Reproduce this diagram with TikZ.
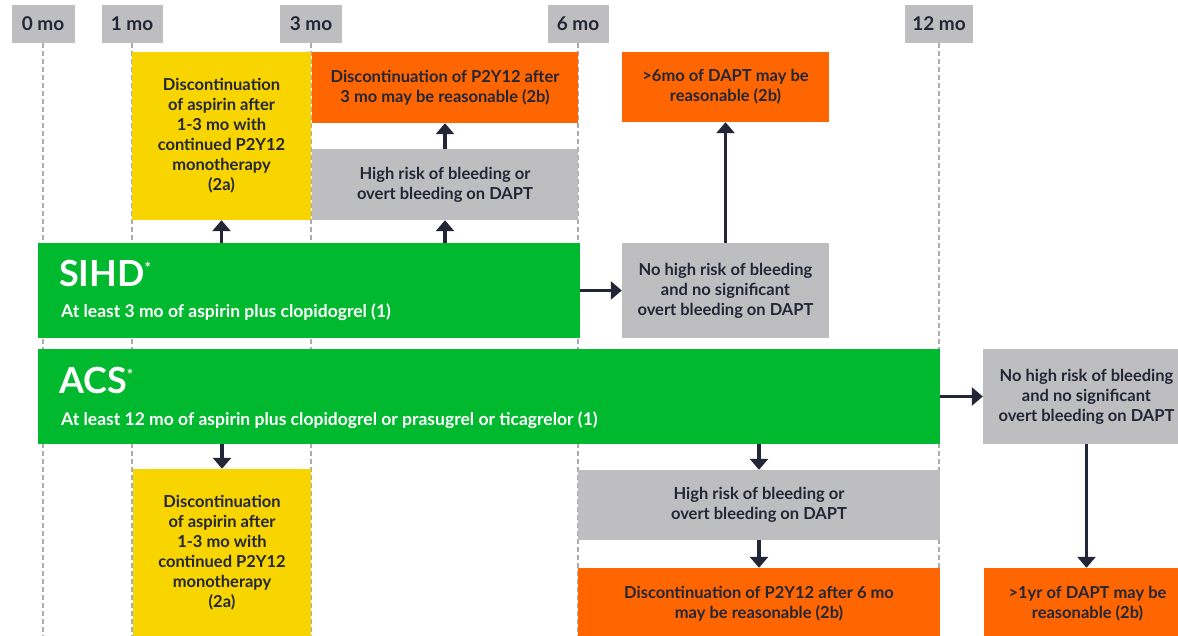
\documentclass[tikz,border=0pt]{standalone}
\usepackage{fontspec}
\setmainfont{Lato}
\usetikzlibrary{arrows.meta}
\definecolor{grn}{RGB}{0,185,46}
\definecolor{org}{RGB}{255,102,0}
\definecolor{ylw}{RGB}{249,213,0}
\definecolor{gry}{RGB}{190,190,192}
\definecolor{ink}{RGB}{35,38,55}
\definecolor{dashgray}{RGB}{172,172,176}
\tikzset{
  box/.style={draw=none, inner sep=0pt, align=center, text=ink,
    font=\bfseries\fontsize{16.5}{20}\selectfont},
  ybox/.style={box, fill=ylw},
  obox/.style={box, fill=org},
  gbox/.style={box, fill=gry},
  greenbox/.style={draw=none, fill=grn, inner sep=0pt},
  hdr/.style={draw=none, fill=gry, inner sep=0pt, text=ink, minimum height=38pt,
    font=\bfseries\fontsize{19}{22}\selectfont},
  tline/.style={dashgray, line width=2pt, dash pattern=on 5pt off 3pt},
  arr/.style={ink, line width=3.5pt, -{Triangle[width=18pt,length=11pt]}},
  ttl/.style={anchor=base west, inner sep=0pt, text=white, font=\bfseries\fontsize{36}{40}\selectfont},
  sub/.style={anchor=base west, inner sep=0pt, text=white, font=\bfseries\fontsize{17.5}{20}\selectfont}
}
\newcommand{\titlestar}{\raisebox{13pt}{\fontsize{15}{15}\selectfont*}}
\begin{document}
\begin{tikzpicture}[x=1pt,y=-1pt]
\useasboundingbox (0,0) rectangle (1178,636);
\clip (0,0) rectangle (1178,636);
\fill[white] (0,0) rectangle (1178,636);
% headers
\node[hdr, minimum width=63pt] (h0) at (43,24) {0 mo};
\node[hdr, minimum width=61pt] (h1) at (132,24) {1 mo};
\node[hdr, minimum width=62pt] (h3) at (311,24) {3 mo};
\node[hdr, minimum width=61pt] (h6) at (578,24) {6 mo};
\node[hdr, minimum width=68pt] (h12) at (939,24) {12 mo};
\coordinate (e0) at (43,636);
\coordinate (e1) at (132,636);
\coordinate (e3) at (311,636);
\coordinate (e6) at (578,636);
\coordinate (e12) at (939,636);
\draw[tline] (h0.south) -- (e0);
\draw[tline] (h1.south) -- (e1);
\draw[tline] (h3.south) -- (e3);
\draw[tline] (h6.south) -- (e6);
\draw[tline] (h12.south) -- (e12);
% top row
\node[ybox, minimum width=179pt, minimum height=168pt] (ytop) at (221.5,136)
  {Discontinuation\\of aspirin after\\1-3 mo with\\continued P2Y12\\monotherapy\\(2a)};
\node[obox, minimum width=266pt, minimum height=71pt] (otop1) at (445,87.5)
  {Discontinuation of P2Y12 after\\3 mo may be reasonable (2b)};
\node[gbox, minimum width=266pt, minimum height=71pt] (gtop) at (445,184.5)
  {High risk of bleeding or\\overt bleeding on DAPT};
\node[obox, minimum width=207pt, minimum height=70pt] (otop2) at (725.5,87)
  {>6mo of DAPT may be\\reasonable (2b)};
% SIHD
\node[greenbox, minimum width=542pt, minimum height=95pt] (sihd) at (309,290.5) {};
\node[ttl] (sihdT) at (59,287) {SIHD\titlestar};
\node[sub] (sihdS) at (61,317) {At least 3 mo of aspirin plus clopidogrel (1)};
\node[gbox, minimum width=207pt, minimum height=95pt] (nh1) at (725.5,290.5)
  {No high risk of bleeding\\and no significant\\overt bleeding on DAPT};
% ACS
\node[greenbox, minimum width=902pt, minimum height=95pt] (acs) at (489,396.5) {};
\node[ttl] (acsT) at (59,393) {ACS\titlestar};
\node[sub] (acsS) at (61,425) {At least 12 mo of aspirin plus clopidogrel or prasugrel or ticagrelor (1)};
\node[gbox, minimum width=207pt, minimum height=95pt] (nh2) at (1086.5,396.5)
  {No high risk of bleeding\\and no significant\\overt bleeding on DAPT};
% bottom row
\node[ybox, minimum width=178pt, minimum height=168pt] (ybot) at (222,553)
  {Discontinuation\\of aspirin after\\1-3 mo with\\continued P2Y12\\monotherapy\\(2a)};
\node[gbox, minimum width=362pt, minimum height=70pt] (gbot) at (759,505)
  {High risk of bleeding or\\overt bleeding on DAPT};
\node[obox, minimum width=362pt, minimum height=72pt] (obot1) at (759,604)
  {Discontinuation of P2Y12 after 6 mo\\may be reasonable (2b)};
\node[obox, minimum width=207pt, minimum height=72pt] (obot2) at (1087.5,604)
  {>1yr of DAPT may be\\reasonable (2b)};
% arrows
\draw[arr] (ytop.south |- sihd.north) -- (ytop.south);
\draw[arr] (gtop.south |- sihd.north) -- (gtop.south);
\draw[arr] (gtop.north) -- (otop1.south);
\draw[arr] (nh1.north) -- (nh1.north |- otop2.south);
\draw[arr] (sihd.east) -- (nh1.west);
\draw[arr] (acs.east) -- (nh2.west);
\draw[arr] (ybot.north |- acs.south) -- (ybot.north);
\draw[arr] (gbot.north |- acs.south) -- (gbot.north);
\draw[arr] (gbot.south) -- (obot1.north);
\draw[arr] (nh2.south) -- (nh2.south |- obot2.north);
\end{tikzpicture}
\end{document}
